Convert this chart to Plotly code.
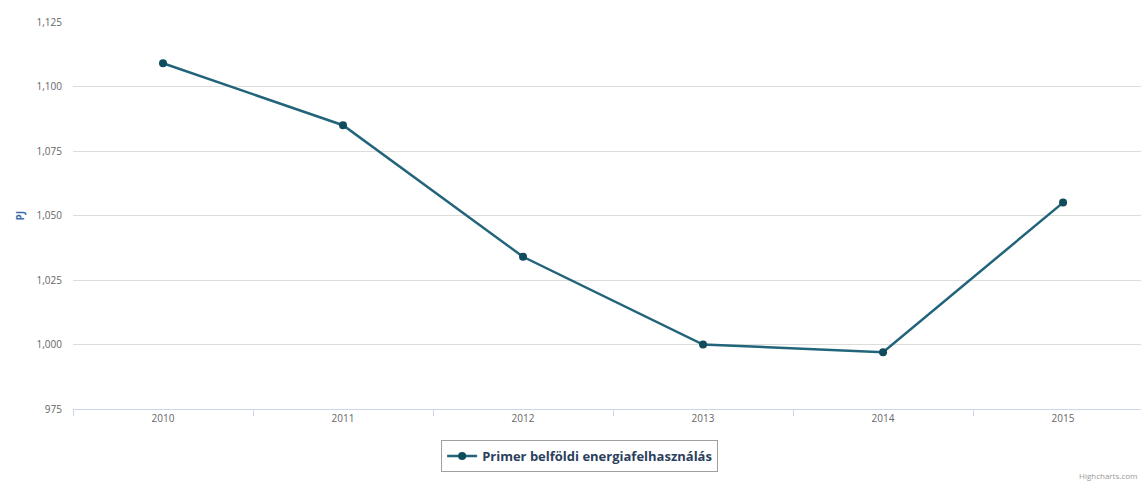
import plotly.graph_objects as go

years = ["2010", "2011", "2012", "2013", "2014", "2015"]
values = [1109, 1085, 1034, 1000, 997, 1055]
series_name = "Primer belföldi energiafelhasználás"
y_ticks = [975, 1000, 1025, 1050, 1075, 1100, 1125]
y_tick_labels = ["975", "1,000", "1,025", "1,050", "1,075", "1,100", "1,125"]

W, H = 1141, 483
fig = go.Figure()
fig.add_trace(go.Scatter(
    x=years, y=values, mode="lines+markers", name=series_name,
    line=dict(color="#22647a", width=2.5),
    marker=dict(color="#0f4c5c", size=8),
))

fig.update_layout(
    width=W, height=H,
    margin=dict(l=73, r=0, t=22, b=74),
    paper_bgcolor="white", plot_bgcolor="white",
    font=dict(family="Open Sans, sans-serif", color="#666666", size=10),
    showlegend=True,
    legend=dict(
        orientation="h", xref="container", yref="container",
        x=0.508, y=1 - 456 / H, xanchor="center", yanchor="middle",
        bordercolor="#a0a0a0", borderwidth=1,
        font=dict(size=13, color="#2b3f5c", family="Open Sans, sans-serif", weight="bold"),
        itemwidth=30,
    ),
    xaxis=dict(
        type="category", range=[-0.5, 5.433],
        showgrid=False, showline=True, linecolor="#ccd6eb", linewidth=1,
        ticks="outside", tickson="boundaries", ticklen=6, tickcolor="#ccd6eb",
        tickfont=dict(size=10, color="#666666"),
        fixedrange=True,
    ),
    yaxis=dict(
        range=[975, 1125], tickvals=y_ticks, ticktext=y_tick_labels,
        showgrid=True, gridcolor="#dcdcdc", gridwidth=1,
        zeroline=False, showline=False, ticks="", ticklabelstandoff=10,
        tickfont=dict(size=10, color="#666666"),
    ),
    annotations=[
        dict(text="PJ", xref="paper", yref="paper", x=0, y=0.5,
             xshift=-63, textangle=-90, showarrow=False,
             font=dict(size=10, color="#3d6ea8", weight="bold")),
        dict(text="Highcharts.com", xref="paper", yref="paper", x=1, y=0,
             xanchor="right", yanchor="bottom", yshift=-74, xshift=-2, showarrow=False,
             font=dict(size=8, color="#999999")),
    ],
)

fig.write_html("out.html")
